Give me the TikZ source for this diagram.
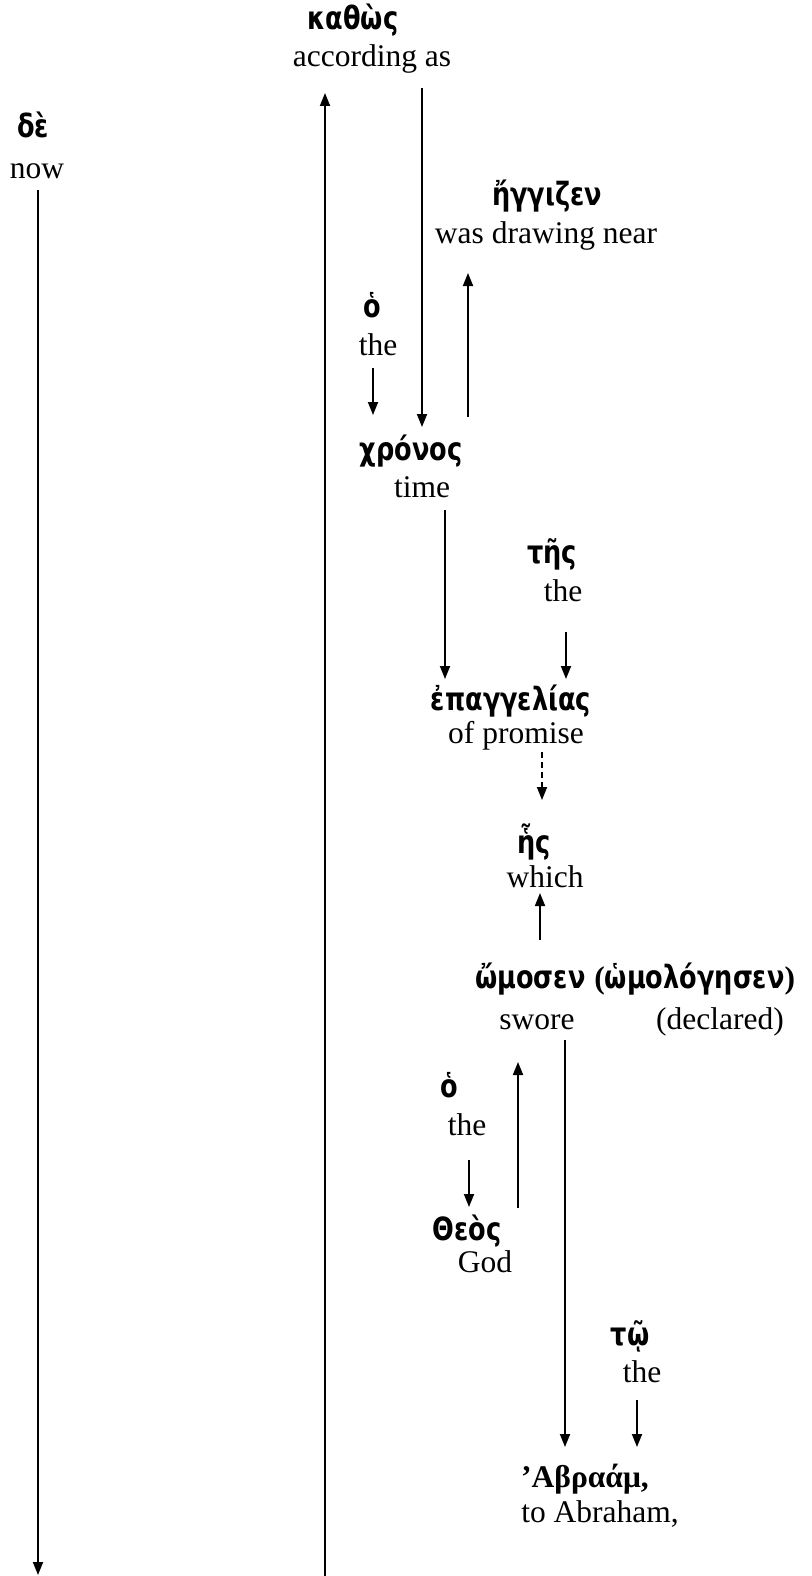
\documentclass[tikz,border=0pt]{standalone}
\usepackage{fontspec}
\setmainfont{Liberation Serif}
\newfontfamily\gk[FakeStretch=0.8]{DejaVu Sans Bold}
\usetikzlibrary{arrows.meta}
\tikzset{
  en/.style={anchor=base, inner sep=0pt, font=\fontsize{31.5}{36}\selectfont},
  gr/.style={anchor=base, inner sep=0pt, font=\gk\fontsize{32}{36}\selectfont},
  grb/.style={anchor=base, inner sep=0pt, font=\bfseries\fontsize{31.5}{36}\selectfont},
  arr/.style={line width=1.8pt, -{Triangle[width=10pt,length=13pt]}},
  darr/.style={arr, dash pattern=on 6pt off 4pt},
}
\begin{document}
\begin{tikzpicture}[x=1pt,y=-1pt]
\useasboundingbox (0,0) rectangle (811,1576);
% words
\node[gr] (de) at (33,138) {δὲ};
\node[en] (deEn) at (37,178) {now};
\node[gr] (kathos) at (353,30) {καθὼς};
\node[en] (kathosEn) at (372,67) {according as};
\node[gr] (engizen) at (547,205) {ἤγγιζεν};
\node[en] (engizenEn) at (546,243) {was drawing near};
\node[gr] (oA) at (372,317) {ὁ};
\node[en] (oAEn) at (378,355) {the};
\node[gr] (xronos) at (411,460) {χρόνος};
\node[en] (xronosEn) at (422,497) {time};
\node[gr] (tes) at (552,563) {τῆς};
\node[en] (tesEn) at (563,601) {the};
\node[gr] (epang) at (511,710) {ἐπαγγελίας};
\node[en] (epangEn) at (516,743) {of promise};
\node[gr] (hes) at (534,853) {ἧς};
\node[en] (hesEn) at (545,887) {which};
\node[gr, anchor=base west] (omosen) at (475,988) {ὤμοσεν {\rmfamily\bfseries\fontsize{31.5}{36}\selectfont(}ὡμολόγησεν{\rmfamily\bfseries\fontsize{31.5}{36}\selectfont)}};
\node[en] (omosenEn) at (537,1029) {swore};
\node[en] (declEn) at (720,1029) {(declared)};
\node[gr] (oB) at (449,1097) {ὁ};
\node[en] (oBEn) at (467,1135) {the};
\node[gr] (theos) at (467,1240) {Θεὸς};
\node[en] (theosEn) at (485,1272) {God};
\node[gr] (to) at (630,1345) {τῷ};
\node[en] (toEn) at (642,1382) {the};
\node[grb] (abraam) at (585,1487) {’Αβραάμ,};
\node[en] (abraamEn) at (600,1522) {to Abraham,};
% connector end points
\coordinate (deS) at (38,190);
\coordinate (deE) at (38,1575);
\coordinate (kaS) at (325,1576);
\coordinate (kaE) at (325,93);
\coordinate (kxS) at (422,88);
\coordinate (kxE) at (422,427);
\coordinate (xeS) at (468,417);
\coordinate (xeE) at (468,273);
\coordinate (oxS) at (373,368);
\coordinate (oxE) at (373,415);
\coordinate (xpS) at (445,510);
\coordinate (xpE) at (445,679);
\coordinate (tpS) at (566,632);
\coordinate (tpE) at (566,679);
\coordinate (phS) at (542,752);
\coordinate (phE) at (542,800);
\coordinate (ohS) at (540,940);
\coordinate (ohE) at (540,893);
\coordinate (otS) at (469,1160);
\coordinate (otE) at (469,1207);
\coordinate (toS) at (518,1208);
\coordinate (toE) at (518,1062);
\coordinate (oaS) at (565,1040);
\coordinate (oaE) at (565,1447);
\coordinate (taS) at (637,1400);
\coordinate (taE) at (637,1447);
% connectors
\draw[arr] (deS) -- (deE);
\draw[arr] (kaS) -- (kaE);
\draw[arr] (kxS) -- (kxE);
\draw[arr] (xeS) -- (xeE);
\draw[arr] (oxS) -- (oxE);
\draw[arr] (xpS) -- (xpE);
\draw[arr] (tpS) -- (tpE);
\draw[darr] (phS) -- (phE);
\draw[arr] (ohS) -- (ohE);
\draw[arr] (otS) -- (otE);
\draw[arr] (toS) -- (toE);
\draw[arr] (oaS) -- (oaE);
\draw[arr] (taS) -- (taE);
\end{tikzpicture}
\end{document}
